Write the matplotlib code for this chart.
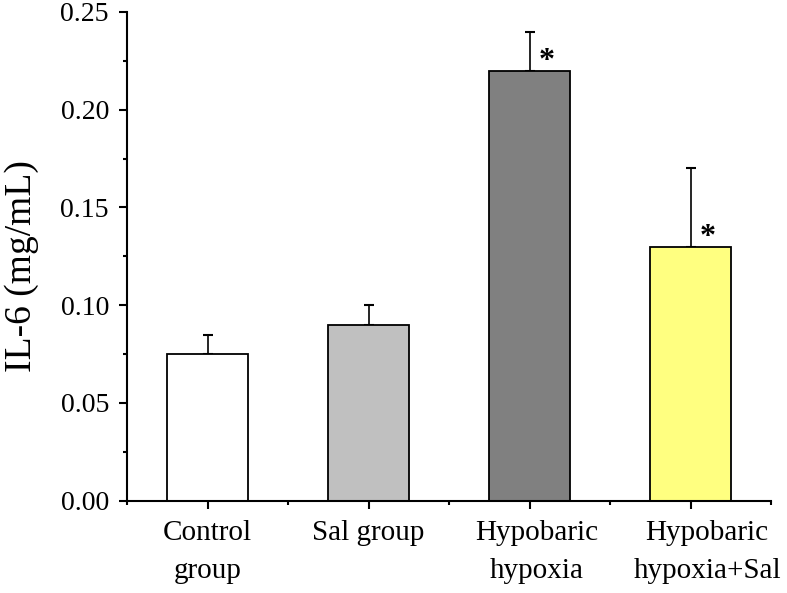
import numpy as np
import matplotlib
matplotlib.use("Agg")
import matplotlib.pyplot as plt
import matplotlib.transforms as mtrans
from matplotlib.ticker import MultipleLocator, FixedLocator

plt.rcParams['font.family'] = ['Liberation Serif', 'DejaVu Serif']

groups = ['Control\ngroup', 'Sal group', 'Hypobaric\nhypoxia', 'Hypobaric\nhypoxia+Sal']
means = [0.075, 0.090, 0.220, 0.130]
errs = [0.010, 0.010, 0.020, 0.040]
colors = ['#ffffff', '#c0c0c0', '#808080', '#ffff80']
signif = ['', '', '*', '*']

fig = plt.figure(figsize=(7.87, 5.93), dpi=100)
ax = fig.add_axes([0.1614, 0.1557, 0.8183, 0.8241])

x = np.arange(1, len(groups) + 1)
ax.bar(x, means, width=0.5, color=colors, edgecolor='black', linewidth=1.3, zorder=2)
ax.errorbar(x, means, yerr=[np.zeros(len(errs)), errs], fmt='none', ecolor='black',
            elinewidth=1.2, capsize=3.5, capthick=1.5, zorder=1)

for xi, m, s in zip(x, means, signif):
    if s:
        ax.annotate(s, xy=(xi, m), xytext=(12, 1), textcoords='offset points',
                    ha='center', va='baseline', fontsize=23, fontweight='bold')

ax.set_xlim(0.5, 4.5)
ax.set_ylim(0, 0.25)
ax.yaxis.set_major_locator(MultipleLocator(0.05))
ax.yaxis.set_minor_locator(MultipleLocator(0.025))
ax.yaxis.set_major_formatter(plt.FormatStrFormatter('%.2f'))
ax.set_xticks(x)
ax.set_xticklabels(groups)
ax.xaxis.set_minor_locator(FixedLocator([0.5, 1.5, 2.5, 3.5, 4.5]))

for side in ['top', 'right']:
    ax.spines[side].set_visible(False)
for side in ['left', 'bottom']:
    ax.spines[side].set_linewidth(1.5)

ax.tick_params(axis='both', which='major', direction='out', length=6, width=1.5)
ax.tick_params(axis='both', which='minor', direction='out', length=3, width=1.5)
ax.tick_params(axis='y', which='major', pad=7, labelsize=20)
ax.tick_params(axis='x', which='major', pad=8, labelsize=21)

# the last two labels sit a bit to the right in the original
shifts = [0, 0, 5, 12]
for lab, dx in zip(ax.get_xticklabels(), shifts):
    lab.set_linespacing(1.6)
    lab.set_transform(lab.get_transform() + mtrans.ScaledTranslation(dx / 72, 0, fig.dpi_scale_trans))

ax.set_ylabel('IL-6 (mg/mL)', fontsize=27)
ax.yaxis.set_label_coords(-0.137, 0.48)

fig.savefig('out.png', dpi=100)
